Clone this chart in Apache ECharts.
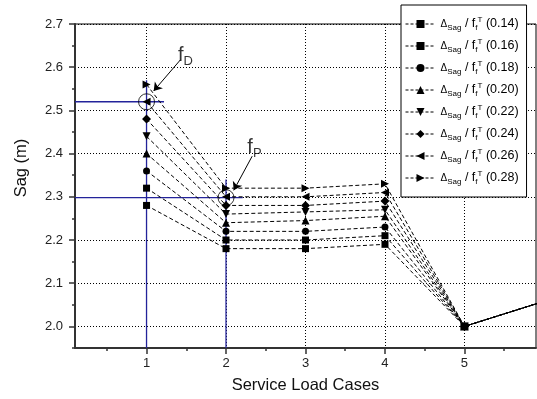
<!DOCTYPE html>
<html><head><meta charset="utf-8">
<script src="https://cdn.jsdelivr.net/npm/echarts@6/dist/echarts.min.js"></script>
<style>html,body{margin:0;padding:0;background:#fff}#c{width:537px;height:399px}</style>
</head><body><div id="c"></div>
<script>
// ---- data ----
const loadCases = [1, 2, 3, 4, 5, 6];
const ratioNames = ['0.14', '0.16', '0.18', '0.20', '0.22', '0.24', '0.26', '0.28'];
const sag014 = [2.28, 2.18, 2.18, 2.19, 2.00, 2.058];
const sag016 = [2.32, 2.20, 2.20, 2.21, 2.00, 2.058];
const sag018 = [2.36, 2.22, 2.22, 2.23, 2.00, 2.058];
const sag020 = [2.40, 2.24, 2.245, 2.255, 2.00, 2.058];
const sag022 = [2.44, 2.26, 2.265, 2.27, 2.00, 2.058];
const sag024 = [2.48, 2.28, 2.28, 2.29, 2.00, 2.058];
const sag026 = [2.52, 2.30, 2.30, 2.31, 2.00, 2.058];
const sag028 = [2.56, 2.32, 2.32, 2.33, 2.00, 2.058];
const xLabels = [1, 2, 3, 4, 5];
const xMinorTicks = [0.5, 1.5, 2.5, 3.5, 4.5, 5.5];
const yLabels = [2.0, 2.1, 2.2, 2.3, 2.4, 2.5, 2.6, 2.7];
const yMinorTicks = [1.95, 2.05, 2.15, 2.25, 2.35, 2.45, 2.55, 2.65];
// annotation points (data coords)
const fDPoint = [1, 2.52];
const fPPoint = [2, 2.298];
const fDGuideH = [[0.1, 2.52], [1.22, 2.52]];
const fDGuideV = [[1, 1.95], [1, 2.57]];
const fPGuideH = [[0.1, 2.298], [2.21, 2.298]];
const fPGuideV = [[2, 1.95], [2, 2.34]];
const fDLabel = [1.489, 2.627];
const fPLabel = [2.358, 2.413];
const fDArrow = [[1.426, 2.617], [1.09, 2.545]];
const fPArrow = [[2.329, 2.394], [2.097, 2.315]];

const seriesValues = [sag014, sag016, sag018, sag020, sag022, sag024, sag026, sag028];
const symbols = ['rect', 'rect', 'circle', 'triangle', 'triangle', 'diamond', 'triangle', 'triangle'];
const rotations = [0, 0, 0, 0, 180, 0, 90, -90];
const FONT = "'Liberation Sans', Arial, sans-serif";

const chart = echarts.init(document.getElementById('c'), null, {renderer: 'canvas'});

const dataSeries = ratioNames.map((n, i) => ({
  name: n, type: 'line', xAxisIndex: 0, yAxisIndex: 0,
  data: loadCases.map((x, j) => [x, seriesValues[i][j]]),
  symbol: symbols[i], symbolRotate: rotations[i],
  symbolSize: symbols[i] === 'triangle' ? 8 : (symbols[i] === 'diamond' ? 9 : 7),
  showAllSymbol: true,
  itemStyle: {color: '#000'},
  lineStyle: {color: '#000', width: 1, type: [4, 2.5]},
  clip: true, z: 3
}));

const guide = (d) => ({
  type: 'line', data: d, symbol: 'none', silent: true, z: 2,
  lineStyle: {color: '#23239a', width: 1.3, type: 'solid'}, clip: true
});

const option = {
  animation: false,
  backgroundColor: '#fff',
  textStyle: {fontFamily: FONT},
  grid: {left: 75, right: 1, top: 24, bottom: 48, show: true, borderColor: '#000', borderWidth: 1, backgroundColor: 'transparent'},
  legend: {
    orient: 'vertical', left: 401, top: 5,
    padding: [11, 8, 11, 4], itemGap: 6,
    itemWidth: 30, itemHeight: 10,
    backgroundColor: '#fff', borderColor: '#000', borderWidth: 1,
    lineStyle: {width: 1, type: [3, 2]},
    data: ratioNames,
    formatter: (name) => '{d|Δ}{sub|Sag}{n| / f}{sub|f}{sup|T}{n| (' + name + ')}',
    textStyle: {
      fontFamily: FONT, color: '#000', fontSize: 12.5, lineHeight: 16,
      rich: {
        n: {fontSize: 12.5, lineHeight: 16, fontFamily: FONT, color: '#000'},
        d: {fontSize: 10, lineHeight: 16, fontFamily: FONT, color: '#000'},
        sub: {fontSize: 8, lineHeight: 16, verticalAlign: 'bottom', fontFamily: FONT, color: '#000'},
        sup: {fontSize: 8, lineHeight: 16, verticalAlign: 'top', fontFamily: FONT, color: '#000'}
      }
    }
  },
  xAxis: [{
    type: 'value', min: 0.1, max: 5.9, position: 'bottom',
    name: 'Service Load Cases', nameLocation: 'middle', nameGap: 29,
    nameTextStyle: {fontSize: 16.5, color: '#111', fontFamily: FONT},
    axisLine: {show: true, lineStyle: {color: '#333', width: 2}},
    axisTick: {show: true, customValues: xLabels, length: 6, lineStyle: {color: '#333', width: 1.5}},
    axisLabel: {customValues: xLabels, fontSize: 13, color: '#222', margin: 9, fontFamily: FONT},
    splitLine: {show: true, lineStyle: {color: '#000', width: 1, type: [1, 2]}}
  }, {
    type: 'value', min: 0.1, max: 5.9, position: 'bottom',
    axisLine: {show: false},
    axisTick: {show: true, customValues: xMinorTicks, length: 3, lineStyle: {color: '#333', width: 1.5}},
    axisLabel: {show: false},
    splitLine: {show: false}
  }],
  yAxis: [{
    type: 'value', min: 1.95, max: 2.7, position: 'left',
    name: 'Sag (m)', nameLocation: 'middle', nameGap: 45,
    nameTextStyle: {fontSize: 16.5, color: '#111', fontFamily: FONT, padding: [0, 0, 0, 36]},
    axisLine: {show: true, lineStyle: {color: '#333', width: 2}},
    axisTick: {show: true, customValues: yLabels, length: 6, lineStyle: {color: '#333', width: 1.5}},
    axisLabel: {customValues: yLabels, formatter: (v) => Number(v).toFixed(1), fontSize: 13, color: '#222', margin: 12, fontFamily: FONT},
    splitLine: {show: true, lineStyle: {color: '#000', width: 1, type: [1, 2]}}
  }, {
    type: 'value', min: 1.95, max: 2.7, position: 'left',
    axisLine: {show: false},
    axisTick: {show: true, customValues: yMinorTicks, length: 3, lineStyle: {color: '#333', width: 1.5}},
    axisLabel: {show: false},
    splitLine: {show: false}
  }],
  series: [
    guide(fDGuideH), guide(fDGuideV), guide(fPGuideH), guide(fPGuideV),
    ...dataSeries,
    {
      type: 'scatter', data: [fDPoint, fPPoint], symbol: 'circle', symbolSize: 16, silent: true, z: 4,
      itemStyle: {color: 'rgba(0,0,0,0)', borderColor: '#000', borderWidth: 1}
    },
    {
      type: 'scatter', silent: true, z: 5, symbolSize: 1,
      itemStyle: {color: 'rgba(0,0,0,0)'},
      data: [
        {value: fDLabel, label: {formatter: '{f|f}{s|D}'}},
        {value: fPLabel, label: {formatter: '{f|f}{s|P}'}}
      ],
      label: {
        show: true, position: 'inside',
        rich: {
          f: {fontSize: 20, fontFamily: FONT, color: '#000', lineHeight: 24},
          s: {fontSize: 13, fontFamily: FONT, color: '#000', verticalAlign: 'bottom', lineHeight: 24}
        }
      },
      markLine: {
        silent: true, symbol: ['none', 'arrow'], symbolSize: 8,
        lineStyle: {color: '#000', width: 1, type: 'solid'},
        label: {show: false},
        data: [
          [{coord: fDArrow[0]}, {coord: fDArrow[1]}],
          [{coord: fPArrow[0]}, {coord: fPArrow[1]}]
        ]
      }
    }
  ]
};
chart.setOption(option);
</script>
</body></html>
